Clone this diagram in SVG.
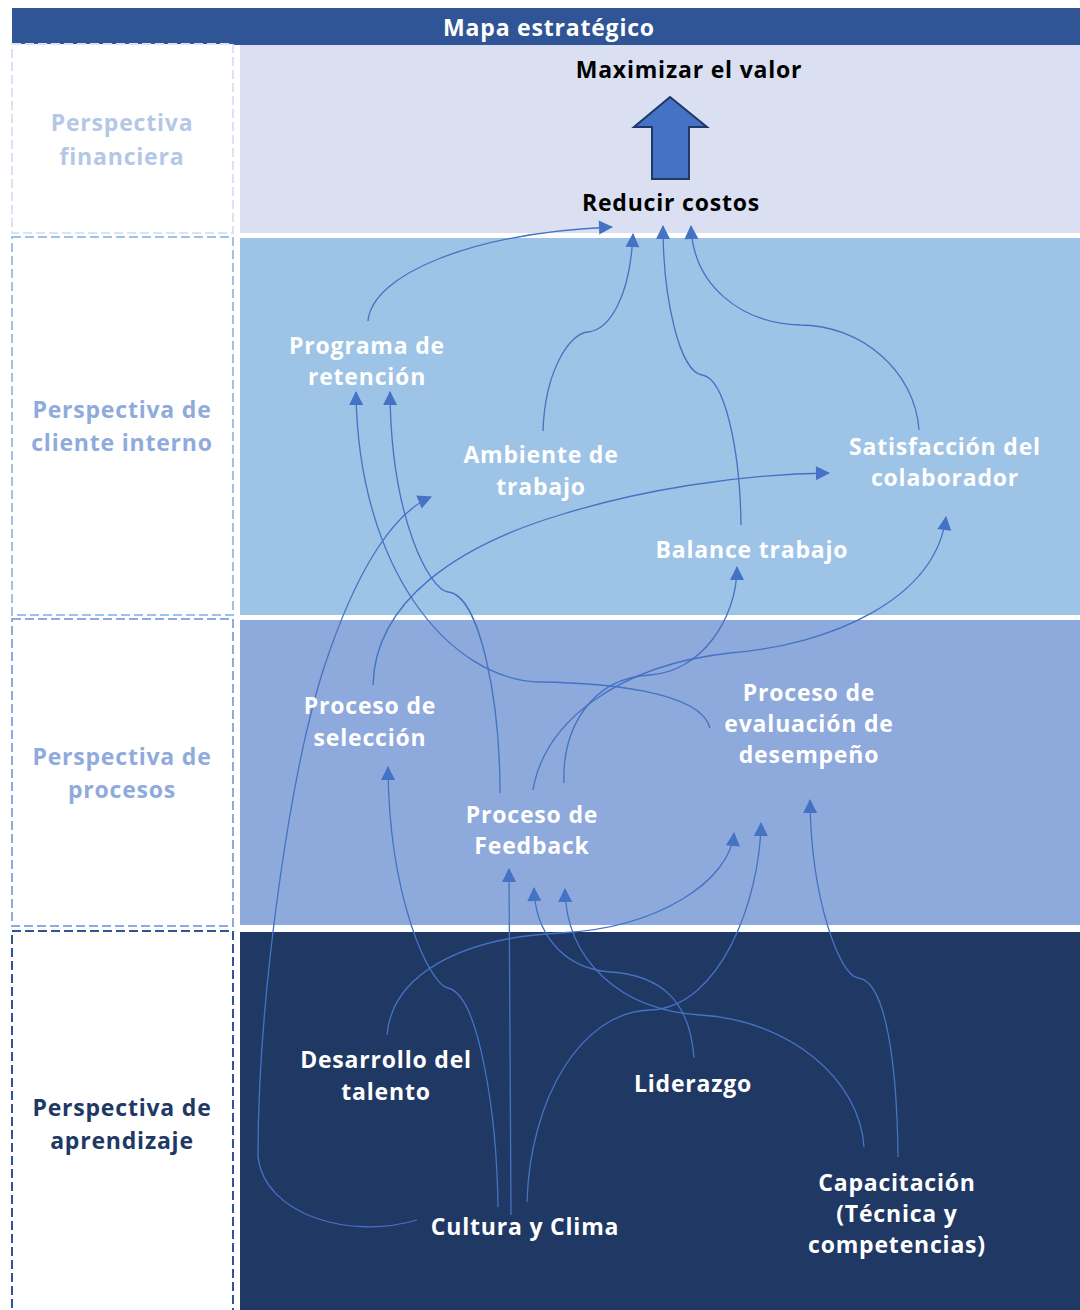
<svg xmlns="http://www.w3.org/2000/svg" width="1080" height="1310" viewBox="0 0 1080 1310">
<defs>
<marker id="ah" markerUnits="userSpaceOnUse" markerWidth="16" markerHeight="16" viewBox="0 0 16 16" refX="14" refY="8" orient="auto">
<path d="M1,1 L15,8 L1,15 Z" fill="#4472C4"/>
</marker>
<style>
text{font-family:"Open Sans","Liberation Sans",sans-serif;font-weight:bold;text-anchor:middle;font-size:23px;letter-spacing:0.8px}
.w{fill:#FFFFFF}
.k{fill:#000000}
.c{fill:none;stroke:#4472C4;stroke-width:1.3;marker-end:url(#ah)}
.box{fill:#FFFFFF;stroke-width:2;stroke-dasharray:9 4}
</style>
</defs>
<rect x="0" y="0" width="1080" height="1310" fill="#FFFFFF"/>
<g id="header">
<rect x="12" y="8" width="1068" height="37" fill="#2F5597"/>
<text x="549" y="36" class="w">Mapa estratégico</text>
</g>
<g id="bands">
<rect x="240" y="45" width="840" height="188" fill="#DAE0F2"/>
<rect x="240" y="238" width="840" height="377" fill="#9DC3E6"/>
<rect x="240" y="620" width="840" height="305" fill="#8EA9DB"/>
<rect x="240" y="932" width="840" height="380" fill="#203864"/>
</g>
<g id="perspective-financiera">
<rect x="12" y="44" width="221" height="189" class="box" stroke="#DAE3F3"/>
<text x="122" y="131" fill="#B4C7E7">Perspectiva</text>
<text x="122" y="165" fill="#B4C7E7">financiera</text>
</g>
<g id="perspective-cliente">
<rect x="12" y="237" width="221" height="378" class="box" stroke="#9DC3E6"/>
<text x="122" y="418" fill="#8FAADC">Perspectiva de</text>
<text x="122" y="451" fill="#8FAADC">cliente interno</text>
</g>
<g id="perspective-procesos">
<rect x="12" y="619" width="221" height="307" class="box" stroke="#8FAADC"/>
<text x="122" y="765" fill="#8FAADC">Perspectiva de</text>
<text x="122" y="798" fill="#8FAADC">procesos</text>
</g>
<g id="perspective-aprendizaje">
<rect x="12" y="931" width="221" height="390" class="box" stroke="#2F5597"/>
<text x="122" y="1116" fill="#203864">Perspectiva de</text>
<text x="122" y="1149" fill="#203864">aprendizaje</text>
</g>
<g id="big-arrow">
<path d="M670,97 L707,127 L689,127 L689,179 L652,179 L652,127 L634,127 Z" fill="#4472C4" stroke="#1F3864" stroke-width="2"/>
</g>
<g id="connectors">
<path class="c" d="M368,321 C372,275 470,233 612,227"/>
<path class="c" d="M543,431 C545,370 570,333 588,332 C608,330 630,300 633,234"/>
<path class="c" d="M741,525 C740,450 725,378 702,375 C680,372 663,300 663,226"/>
<path class="c" d="M919,430 C915,370 860,325 800,325 C740,323 693,285 691,226"/>
<path class="c" d="M373,685 C375,600 460,545 560,515 C640,490 740,474 829,473"/>
<path class="c" d="M533,790 C545,720 620,665 730,653 C830,645 935,600 946,517"/>
<path class="c" d="M564,783 C562,730 590,678 650,675 C700,672 737,620 737,567"/>
<path class="c" d="M500,793 C500,700 480,595 448,592 C430,590 391,520 390,392"/>
<path class="c" d="M710,728 C700,690 600,683 540,682 C450,680 358,570 356,392"/>
<path class="c" d="M417,1220 C350,1240 265,1215 258,1157 C258,1000 290,760 330,650 C360,565 395,512 431,497"/>
<path class="c" d="M498,1207 C497,1120 480,995 448,988 C430,985 389,900 388,767"/>
<path class="c" d="M511,1215 L509,869"/>
<path class="c" d="M527,1202 C530,1100 580,1012 650,1010 C720,1008 760,900 761,823"/>
<path class="c" d="M694,1058 C690,1000 660,975 610,972 C560,968 535,930 534,888"/>
<path class="c" d="M864,1147 C860,1080 790,1020 700,1015 C620,1010 566,960 565,889"/>
<path class="c" d="M387,1035 C392,975 460,938 560,933 C660,928 730,880 734,833"/>
<path class="c" d="M898,1157 C897,1060 885,980 858,978 C840,976 811,900 810,800"/>
</g>
<g id="node-maximizar"><text x="689" y="78" class="k">Maximizar el valor</text></g>
<g id="node-reducir"><text x="671" y="211" class="k">Reducir costos</text></g>
<g id="node-programa"><text x="367" y="354" class="w">Programa de</text><text x="367" y="385" class="w">retención</text></g>
<g id="node-ambiente"><text x="541" y="463" class="w">Ambiente de</text><text x="541" y="495" class="w">trabajo</text></g>
<g id="node-satisfaccion"><text x="945" y="455" class="w">Satisfacción del</text><text x="945" y="486" class="w">colaborador</text></g>
<g id="node-balance"><text x="752" y="558" class="w">Balance trabajo</text></g>
<g id="node-seleccion"><text x="370" y="714" class="w">Proceso de</text><text x="370" y="746" class="w">selección</text></g>
<g id="node-evaluacion"><text x="809" y="701" class="w">Proceso de</text><text x="809" y="732" class="w">evaluación de</text><text x="809" y="763" class="w">desempeño</text></g>
<g id="node-feedback"><text x="532" y="823" class="w">Proceso de</text><text x="532" y="854" class="w">Feedback</text></g>
<g id="node-desarrollo"><text x="386" y="1068" class="w">Desarrollo del</text><text x="386" y="1100" class="w">talento</text></g>
<g id="node-liderazgo"><text x="693" y="1092" class="w">Liderazgo</text></g>
<g id="node-cultura"><text x="525" y="1235" class="w">Cultura y Clima</text></g>
<g id="node-capacitacion"><text x="897" y="1191" class="w">Capacitación</text><text x="897" y="1222" class="w">(Técnica y</text><text x="897" y="1253" class="w">competencias)</text></g>
</svg>
